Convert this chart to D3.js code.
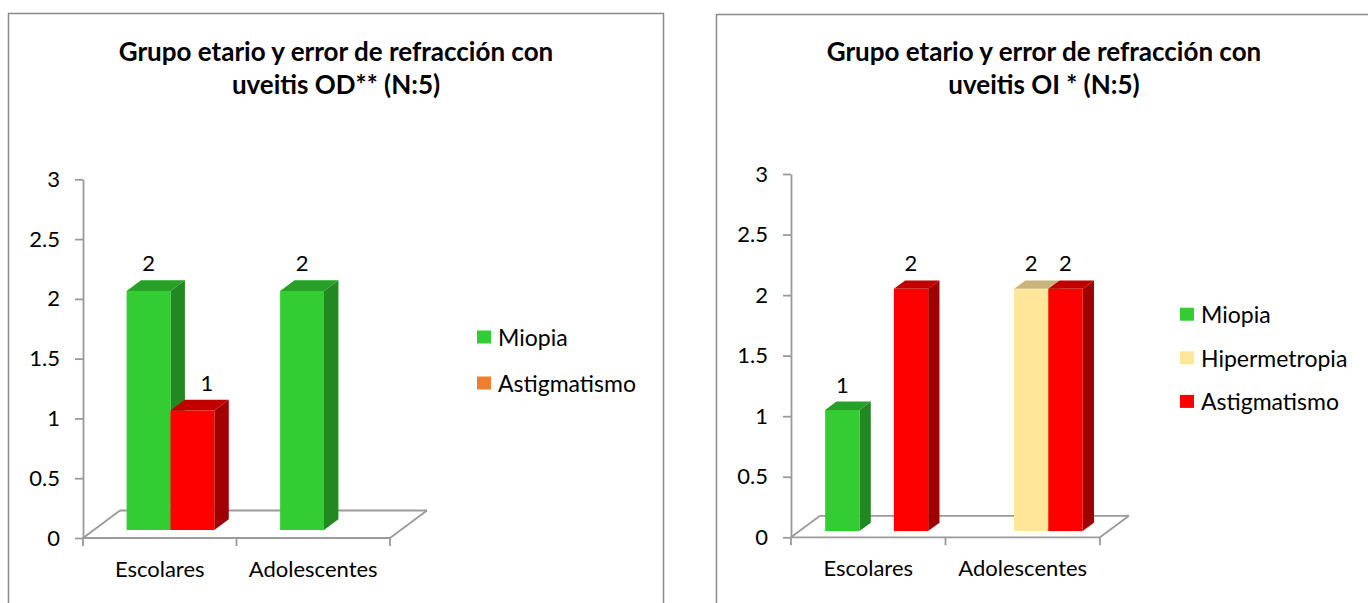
<!DOCTYPE html>
<html>
<head>
<meta charset="utf-8">
<script src="https://cdn.jsdelivr.net/npm/d3@7"></script>
<style>
  body { margin: 0; background: #fff; }
  svg { display: block; }
  text { font-family: Lato, "Open Sans", sans-serif; fill: #000; }
</style>
</head>
<body>
<svg id="chart" width="1368" height="603"></svg>
<script>
// ---- data ----
const categories = ["Escolares", "Adolescentes"];
const yTicks = [0, 0.5, 1, 1.5, 2, 2.5, 3];

const odTitle = ["Grupo etario y error de refracción con", "uveitis OD** (N:5)"];
const odSeries = ["Miopia", "Astigmatismo"];
const odMiopia = [2, 2];
const odAstigmatismo = [1, null];

const oiTitle = ["Grupo etario y error de refracción con", "uveitis OI * (N:5)"];
const oiSeries = ["Miopia", "Hipermetropia", "Astigmatismo"];
const oiMiopia = [1, null];
const oiHipermetropia = [null, 2];
const oiAstigmatismo = [2, 2];

// ---- styling ----
const shades = {
  green: { front: "#33CC33", top: "#26A026", side: "#228822" },
  red:   { front: "#FF0000", top: "#C00000", side: "#A00000" },
  cream: { front: "#FFE699", top: "#C8B47A", side: "#B9A56C" }
};
const AXIS = "#9a9a9a";
const FS = 22;

const charts = [
  {
    title: odTitle, series: odSeries, values: [odMiopia, odAstigmatismo],
    bars: [shades.green, shades.red],
    legendColors: ["#33CC33", "#ED7D31"],
    frame: { x: 8.5, y: 13.5, w: 655 },
    titleX: 336,
    plot: { x0: 83, x1: 390, y0: 538, yTop: 179.3, dx: 37, dy: -27.5 },
    legend: { x: 477, y: 337, gap: 46 }
  },
  {
    title: oiTitle, series: oiSeries, values: [oiMiopia, oiHipermetropia, oiAstigmatismo],
    bars: [shades.green, shades.cream, shades.red],
    legendColors: ["#33CC33", "#FFE699", "#FF0000"],
    frame: { x: 716.5, y: 14.5, w: 700 },
    titleX: 1044,
    plot: { x0: 791, x1: 1100, y0: 537.3, yTop: 174, dx: 29, dy: -21.5 },
    legend: { x: 1180, y: 314.2, gap: 43.6 }
  }
];

const svg = d3.select("#chart");

charts.forEach(spec => drawChart(svg.append("g"), spec));

function drawChart(g, spec) {
  const p = spec.plot;

  // chart frame
  g.append("rect")
    .attr("x", spec.frame.x).attr("y", spec.frame.y)
    .attr("width", spec.frame.w).attr("height", 700)
    .attr("fill", "none").attr("stroke", "#8a8a8a").attr("stroke-width", 1.5);

  // title
  g.append("text")
    .attr("text-anchor", "middle")
    .attr("font-weight", "bold").attr("font-size", 26)
    .selectAll("tspan").data(spec.title).join("tspan")
    .attr("x", spec.titleX).attr("y", (d, i) => 61 + i * 33)
    .text(d => d);

  const y = d3.scaleLinear().domain([0, 3]).range([p.y0, p.yTop]);
  const x = d3.scaleBand().domain(categories).range([p.x0, p.x1]);
  const n = spec.series.length;
  const bw = x.bandwidth() / (n + 1.5);
  const slot = d3.scaleBand().domain(spec.series).range([-n * bw / 2, n * bw / 2]);

  // floor of the 3D plot
  const line = (a, b) => g.append("line")
    .attr("x1", a[0]).attr("y1", a[1]).attr("x2", b[0]).attr("y2", b[1])
    .attr("stroke", AXIS).attr("stroke-width", 1.8);
  const bx0 = p.x0 + p.dx, bx1 = p.x1 + p.dx, by = p.y0 + p.dy;
  line([p.x0, p.y0], [bx0, by]);
  line([bx0, by], [bx1, by]);
  line([bx1, by], [p.x1, p.y0]);
  line([p.x0, p.y0], [p.x1, p.y0]);

  // category ticks and labels
  const edges = categories.map(c => x(c)).concat([p.x1]);
  edges.forEach(e => line([e, p.y0], [e, p.y0 + 8]));
  g.selectAll(".cat").data(categories).join("text")
    .attr("x", d => x(d) + x.bandwidth() / 2)
    .attr("y", p.y0 + 39)
    .attr("text-anchor", "middle").attr("font-size", FS)
    .text(d => d);

  // value axis
  const ax = g.append("g")
    .attr("transform", `translate(${p.x0},0)`)
    .call(d3.axisLeft(y).tickValues(yTicks).tickFormat(d => String(d))
      .tickSize(8).tickPadding(15).tickSizeOuter(0));
  ax.attr("font-family", null).attr("font-size", FS);
  ax.selectAll("path, line").attr("stroke", AXIS).attr("stroke-width", 1.8);
  ax.selectAll("text").attr("fill", "#000");

  // 3D columns, drawn left to right so each face overlaps the previous side
  const z0 = 0.29, zd = 0.39;
  const ox = z0 * p.dx, oy = z0 * p.dy, sx = zd * p.dx, sy = zd * p.dy;
  const barsG = g.append("g");
  const labelsG = g.append("g");
  categories.forEach((c, ci) => {
    spec.series.forEach((s, si) => {
      const v = spec.values[si][ci];
      if (v == null) return;
      const xl = x(c) + x.bandwidth() / 2 + slot(s) + ox;
      const xr = xl + bw;
      const yt = y(v) + oy, yb = y(0) + oy;
      const col = spec.bars[si];
      barsG.append("polygon")
        .attr("points", [[xr, yt], [xr + sx, yt + sy], [xr + sx, yb + sy], [xr, yb]].join(" "))
        .attr("fill", col.side);
      barsG.append("polygon")
        .attr("points", [[xl, yt], [xl + sx, yt + sy], [xr + sx, yt + sy], [xr, yt]].join(" "))
        .attr("fill", col.top);
      barsG.append("rect")
        .attr("x", xl).attr("y", yt).attr("width", bw).attr("height", yb - yt)
        .attr("fill", col.front);

      // value label; moved onto the side face when the left neighbour is taller
      const prev = si > 0 ? spec.values[si - 1][ci] : null;
      const shift = prev != null && prev > v ? sx : 0;
      labelsG.append("text")
        .attr("x", xl + bw / 2 + shift)
        .attr("y", yt + sy - 9)
        .attr("text-anchor", "middle").attr("font-size", FS)
        .text(v);
    });
  });

  // legend
  const lg = g.append("g");
  spec.series.forEach((s, i) => {
    const cy = spec.legend.y + i * spec.legend.gap;
    lg.append("rect")
      .attr("x", spec.legend.x).attr("y", cy - 6.5)
      .attr("width", 14).attr("height", 13)
      .attr("fill", spec.legendColors[i]);
    lg.append("text")
      .attr("x", spec.legend.x + 21).attr("y", cy)
      .attr("dominant-baseline", "central").attr("font-size", 23)
      .text(s);
  });
}
</script>
</body>
</html>
